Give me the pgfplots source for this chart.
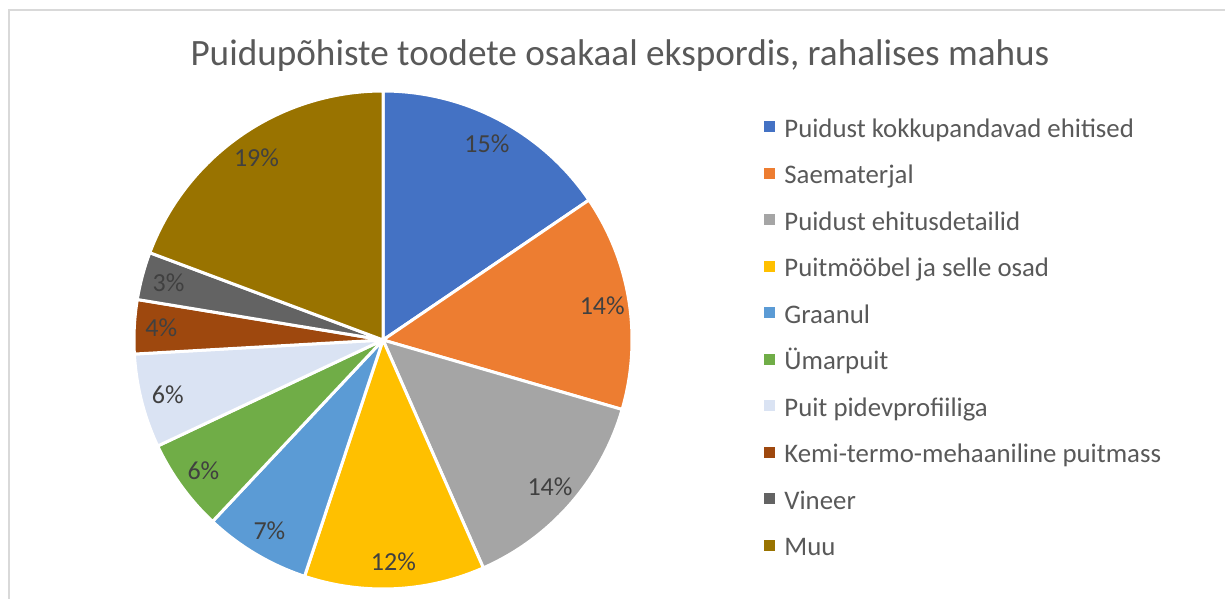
\documentclass[border=0pt]{standalone}
\usepackage{fontspec}
\setmainfont{Carlito}
\usepackage{pgfplots}
\usepackage{pgfplotstable}
\pgfplotsset{compat=1.18}

\definecolor{c1}{HTML}{4472C4}
\definecolor{c2}{HTML}{ED7D31}
\definecolor{c3}{HTML}{A5A5A5}
\definecolor{c4}{HTML}{FFC000}
\definecolor{c5}{HTML}{5B9BD5}
\definecolor{c6}{HTML}{70AD47}
\definecolor{c7}{HTML}{DAE3F3}
\definecolor{c8}{HTML}{9E480E}
\definecolor{c9}{HTML}{636363}
\definecolor{c10}{HTML}{997300}
\definecolor{titlegray}{HTML}{595959}
\definecolor{lblgray}{HTML}{404040}
\definecolor{framegray}{HTML}{D9D9D9}

% share in percent, rounded label, colour, name
\pgfplotstableread[col sep=comma]{
share,lbl,col,name
15.5,15,c1,Puidust kokkupandavad ehitised
14.0,14,c2,Saematerjal
13.9,14,c3,Puidust ehitusdetailid
11.7,12,c4,Puitmööbel ja selle osad
6.9,7,c5,Graanul
6.0,6,c6,Ümarpuit
6.1,6,c7,Puit pidevprofiiliga
3.5,4,c8,Kemi-termo-mehaaniline puitmass
3.1,3,c9,Vineer
19.3,19,c10,Muu
}\piedata

\begin{document}
\begin{tikzpicture}
\path[use as bounding box] (0,0) rectangle (612.5pt,299.5pt);
\begin{axis}[
  at={(0,0)}, anchor=south west,
  scale only axis,
  width=612.5pt, height=299.5pt,
  xmin=0, xmax=1225, ymin=0, ymax=599,
  axis lines=none,
  clip=false,
  legend style={
    at={(axis cs:758,485)}, anchor=north west,
    draw=none, fill=none,
    font=\fontsize{13.4}{15}\selectfont,
    text=titlegray,
    row sep=10.25pt,
    column sep=4.5pt,
    nodes={inner sep=0pt, text height=9.5pt, text depth=3.5pt},
  },
  legend cell align=left,
  legend image code/.code={\fill[#1, draw=none] (0pt,-0.35pt) rectangle (5.5pt,5.15pt);},
]
\def\cum{0}
\pgfplotsforeachungrouped \i in {0,...,9}{
  \pgfplotstablegetelem{\i}{share}\of\piedata \let\sh\pgfplotsretval
  \pgfplotstablegetelem{\i}{lbl}\of\piedata \let\lb\pgfplotsretval
  \pgfplotstablegetelem{\i}{col}\of\piedata \let\cl\pgfplotsretval
  \pgfplotstablegetelem{\i}{name}\of\piedata \let\nm\pgfplotsretval
  \pgfmathsetmacro\aend{90-3.6*\cum}
  \pgfmathsetmacro\cum{\cum+\sh}
  \pgfmathsetmacro\astart{90-3.6*\cum}
  \pgfmathsetmacro\amid{(\astart+\aend)/2}
  \pgfmathsetmacro\lx{383+222*cos(\amid)}
  \pgfmathsetmacro\ly{259+222*sin(\amid)}
  \edef\doplot{%
    \noexpand\addplot[fill=\cl, draw=white, line width=1.5pt, line join=round,
      domain=\astart:\aend, samples=80, variable=\noexpand\t]
      ({383+249*cos(\noexpand\t)},{259+249*sin(\noexpand\t)})
      -- (axis cs:383,259) -- cycle;
    \noexpand\addlegendentry{\nm}
    \noexpand\node[font=\noexpand\fontsize{13}{15}\noexpand\selectfont,
      text=lblgray] at (axis cs:\lx,\ly) {\lb\noexpand\%};
  }
  \doplot
}
% chart frame (left and top edges visible)
\draw[framegray, line width=0.6pt] (axis cs:9,0) -- (axis cs:9,589) -- (axis cs:1225,589);
\node[font=\fontsize{18.6}{22}\selectfont, text=titlegray, anchor=base]
  at (axis cs:620,533) {Puidupõhiste toodete osakaal ekspordis, rahalises mahus};
\end{axis}
\end{tikzpicture}
\end{document}
